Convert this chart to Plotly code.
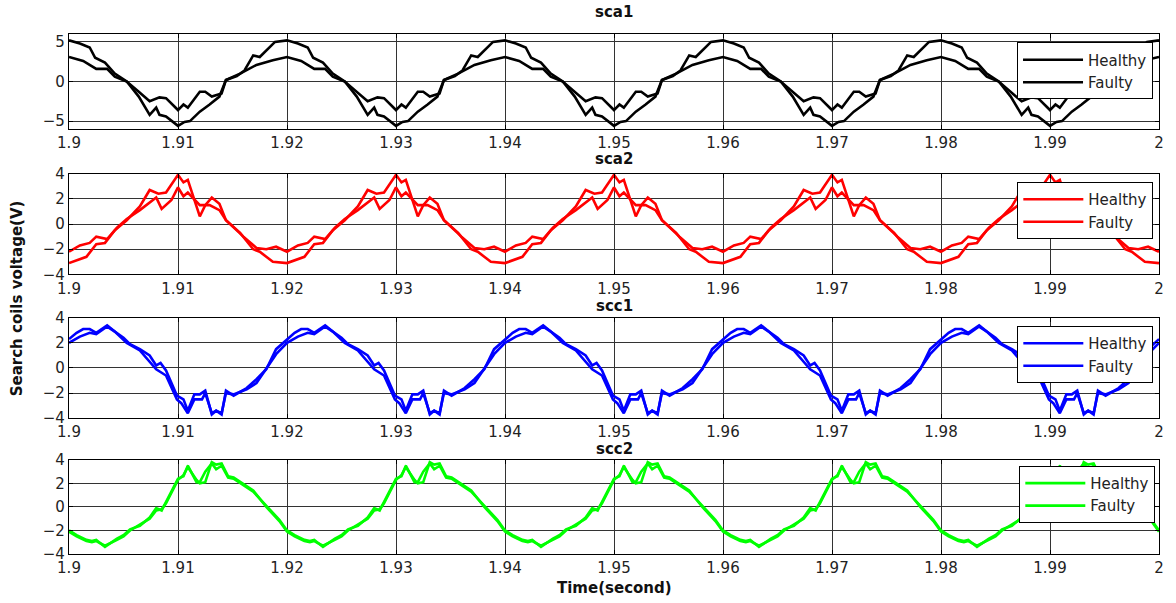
import plotly.graph_objects as go

# ---------------- data (one 20 ms period, repeated as in the figure) ---------------
period_starts = [1.90, 1.92, 1.94, 1.96, 1.98]
t_end = 2.0

x_tick_vals = [1.9, 1.91, 1.92, 1.93, 1.94, 1.95, 1.96, 1.97, 1.98, 1.99, 2.0]
x_tick_text = ["1.9", "1.91", "1.92", "1.93", "1.94", "1.95", "1.96", "1.97", "1.98", "1.99", "2"]
y_ticks_sca1 = [-5, 0, 5]
y_ticks_rest = [-4, -2, 0, 2, 4]

titles = ["sca1", "sca2", "scc1", "scc2"]
series_names = ["Healthy", "Faulty"]
colors = ["#000000", "#ff0000", "#0000ff", "#00ff00"]

# sca1
sca1_healthy_ms = [0, 1.0, 1.9, 2.4, 3.3, 4.2, 5.3, 6.4, 7.4, 8.0, 8.3, 8.9, 10.0, 10.6, 11.1, 12.0,
                   12.9, 13.4, 13.8, 14.4, 15.4, 16.1, 16.9, 17.5, 18.9]
sca1_healthy_v = [5.2, 4.8, 4.3, 3.0, 2.4, 1.0, 0.0, -1.9, -4.2, -3.3, -4.2, -4.4, -5.6, -5.1, -5.0, -3.8,
                  -2.9, -2.3, -1.9, 0.2, 0.7, 1.4, 3.3, 3.1, 5.0]
sca1_faulty_ms = [0, 1.3, 2.5, 3.5, 4.2, 5.3, 6.4, 7.4, 8.3, 8.9, 10.0, 10.5, 10.9, 12.0, 12.5, 13.1,
                  14.0, 14.4, 15.7, 17.2, 18.7]
sca1_faulty_v = [3.1, 2.6, 1.6, 1.6, 0.6, 0.0, -1.3, -2.5, -2.0, -2.1, -3.6, -2.9, -3.3, -1.3, -1.3, -1.9,
                 -1.5, 0.2, 1.0, 2.1, 2.7]

# sca2
sca2_healthy_ms = [0, 1.0, 1.6, 2.5, 3.3, 4.2, 5.3, 6.5, 7.4, 8.2, 8.9, 10.0, 10.5, 10.9, 12.0, 12.5,
                   13.1, 13.8, 14.4, 15.7, 16.9, 17.5, 18.7]
sca2_healthy_v = [-3.1, -2.8, -2.6, -1.6, -1.5, -0.5, 0.3, 1.4, 2.7, 2.4, 2.5, 3.9, 3.3, 3.5, 0.6, 1.5,
                  2.1, 1.6, 0.3, -0.7, -2.0, -2.2, -3.0]
sca2_faulty_ms = [0, 1.0, 1.9, 2.5, 3.5, 4.4, 5.3, 6.5, 8.0, 8.5, 9.4, 10.0, 10.5, 10.9, 12.0, 12.9,
                  13.8, 14.4, 16.0, 17.2, 18.1, 19.0]
sca2_faulty_v = [-2.2, -1.7, -1.5, -1.0, -1.2, -0.3, 0.4, 1.1, 2.1, 1.2, 1.9, 2.9, 2.2, 2.5, 1.5, 1.5,
                 1.1, 0.3, -1.0, -1.9, -2.0, -1.8]

# scc1
scc1_healthy_ms = [0, 0.7, 1.3, 1.9, 2.5, 3.5, 4.2, 5.0, 5.6, 6.5, 7.4, 8.0, 8.4, 8.9, 9.9, 10.5, 10.9,
                   11.5, 12.0, 12.5, 13.1, 13.5, 14.0, 14.4, 15.1, 16.3, 17.2, 18.1, 19.0]
scc1_healthy_v = [2.3, 2.8, 3.1, 3.1, 2.8, 3.4, 2.9, 2.4, 1.9, 1.5, 1.0, 0.2, 0.4, -0.2, -2.2, -2.5, -3.4,
                  -2.1, -2.1, -1.8, -3.7, -3.4, -3.7, -1.8, -2.2, -1.6, -0.9, -0.1, 1.5]
scc1_faulty_ms = [0, 1.0, 1.9, 2.5, 3.5, 4.2, 5.3, 6.5, 8.0, 8.9, 9.9, 10.3, 10.9, 11.5, 12.2, 12.5,
                  13.1, 13.5, 14.0, 14.4, 15.1, 16.3, 17.2, 18.1, 19.0]
scc1_faulty_v = [2.0, 2.5, 2.8, 2.7, 3.3, 2.9, 2.0, 1.4, -0.1, -0.6, -2.5, -2.8, -3.6, -2.5, -2.5, -2.0,
                 -3.6, -3.4, -3.6, -2.0, -2.1, -1.7, -1.2, 0.0, 1.1]

# scc2
scc2_healthy_ms = [0, 0.7, 1.6, 2.1, 2.5, 3.3, 4.4, 5.0, 5.6, 6.5, 7.4, 8.0, 8.5, 8.9, 10.0, 10.5, 10.9,
                   11.7, 12.0, 12.5, 13.1, 13.5, 14.0, 14.6, 15.1, 16.9, 18.1, 19.3]
scc2_healthy_v = [-2.0, -2.4, -2.8, -2.9, -2.8, -3.4, -2.7, -2.4, -1.9, -1.6, -0.9, -0.1, -0.3, 0.4, 2.4,
                  2.6, 3.5, 2.1, 2.1, 3.0, 3.7, 3.2, 3.5, 2.5, 2.4, 1.3, 0.1, -1.1]
scc2_faulty_ms = scc2_healthy_ms
scc2_faulty_v = [-2.1, -2.5, -2.9, -3.0, -2.9, -3.3, -2.8, -2.5, -2.0, -1.5, -1.0, -0.3, -0.2, 0.3, 2.3,
                 2.7, 3.4, 2.3, 2.0, 2.1, 3.8, 3.6, 3.7, 2.6, 2.5, 1.4, 0.0, -1.2]

panels = [
    [(sca1_healthy_ms, sca1_healthy_v), (sca1_faulty_ms, sca1_faulty_v)],
    [(sca2_healthy_ms, sca2_healthy_v), (sca2_faulty_ms, sca2_faulty_v)],
    [(scc1_healthy_ms, scc1_healthy_v), (scc1_faulty_ms, scc1_faulty_v)],
    [(scc2_healthy_ms, scc2_healthy_v), (scc2_faulty_ms, scc2_faulty_v)],
]


def full_series(ms, vals):
    t = [p + m / 1000.0 for p in period_starts for m in ms] + [t_end]
    v = list(vals) * len(period_starts) + [vals[0]]
    return t, v


# ---------------- layout (page pixels; page body margin is removed below) ----------------
W, H = 1176, 603
plot_left, plot_right, plot_top, plot_bottom = 69, 1163, 33.5, 554.3
ML = plot_left
MR = W - plot_right
MT = plot_top
MB = H - plot_bottom
plot_h = plot_bottom - plot_top
plot_w = plot_right - plot_left


def py(px):  # pixel y -> paper y
    return (plot_bottom - px) / plot_h


def pxx(px):  # pixel x -> paper x
    return (px - plot_left) / plot_w


panel_px = [(33.5, 128.7), (173.3, 274.3), (317.7, 418.3), (460.0, 554.3)]
y_ranges = [[-6, 6], [-4, 4], [-4, 4], [-4, 4]]
title_px = [11, 159, 305.5, 449]
legend_px = [(1157, 42), (1157.3, 181.7), (1157.3, 326), (1159.3, 466)]

FONT = "DejaVu Sans"
fig = go.Figure()

for i, pairs in enumerate(panels):
    ax = "" if i == 0 else str(i + 1)
    leg = "legend" if i == 0 else "legend" + str(i + 1)
    for j, (ms, vals) in enumerate(pairs):
        t, v = full_series(ms, vals)
        fig.add_trace(go.Scatter(
            x=t, y=v, mode="lines", name=series_names[j],
            line=dict(color=colors[i], width=2.6),
            xaxis="x" + ax, yaxis="y" + ax, legend=leg, showlegend=True,
        ))

layout = dict(
    width=W, height=H,
    margin=dict(l=ML, r=MR, t=MT, b=MB, pad=0),
    paper_bgcolor="white", plot_bgcolor="white",
    font=dict(family=FONT, size=15, color="#222222"),
    annotations=[],
)

for i in range(4):
    ax = "" if i == 0 else str(i + 1)
    top, bot = panel_px[i]
    layout["xaxis" + ax] = dict(
        domain=[0, 1], anchor="y" + ax, range=[1.9, 2.0],
        tickvals=x_tick_vals, ticktext=x_tick_text,
        showgrid=True, gridcolor="#333333", gridwidth=1,
        showline=True, linecolor="#000000", linewidth=1.3, mirror="ticks",
        ticks="inside", ticklen=4, tickcolor="#000000", zeroline=False,
        tickfont=dict(family=FONT, size=15, color="#222222"),
    )
    layout["yaxis" + ax] = dict(
        domain=[py(bot), py(top)], anchor="x" + ax, range=y_ranges[i],
        tickvals=y_ticks_sca1 if i == 0 else y_ticks_rest,
        showgrid=True, gridcolor="#333333", gridwidth=1,
        showline=True, linecolor="#000000", linewidth=1.3, mirror="ticks",
        ticks="inside", ticklen=4, tickcolor="#000000", zeroline=False,
        tickfont=dict(family=FONT, size=15, color="#222222"),
    )
    lx, ly = legend_px[i]
    layout["legend" if i == 0 else "legend" + str(i + 1)] = dict(
        x=pxx(lx), y=py(ly), xanchor="right", yanchor="top",
        bgcolor="white", bordercolor="#000000", borderwidth=1,
        font=dict(family=FONT, size=15, color="#222222"),
        itemwidth=60, tracegroupgap=0,
    )
    layout["annotations"].append(dict(
        text="<b>" + titles[i] + "</b>", x=0.5, y=py(title_px[i]), xref="paper", yref="paper",
        xanchor="center", yanchor="middle", showarrow=False,
        font=dict(family=FONT, size=15, color="#111111"),
    ))

layout["annotations"].append(dict(
    text="<b>Search coils voltage(V)</b>", x=pxx(17), y=py(298), xref="paper", yref="paper",
    xanchor="center", yanchor="middle", textangle=-90, showarrow=False,
    font=dict(family=FONT, size=15, color="#111111"),
))
layout["annotations"].append(dict(
    text="<b>Time(second)</b>", x=0.5, y=py(588.3), xref="paper", yref="paper",
    xanchor="center", yanchor="middle", showarrow=False,
    font=dict(family=FONT, size=15, color="#111111"),
))

fig.update_layout(**layout)
fig.write_html(
    "out.html",
    config={"displayModeBar": False},
    post_script="document.body.style.margin='0';document.body.style.overflow='hidden';",
)
